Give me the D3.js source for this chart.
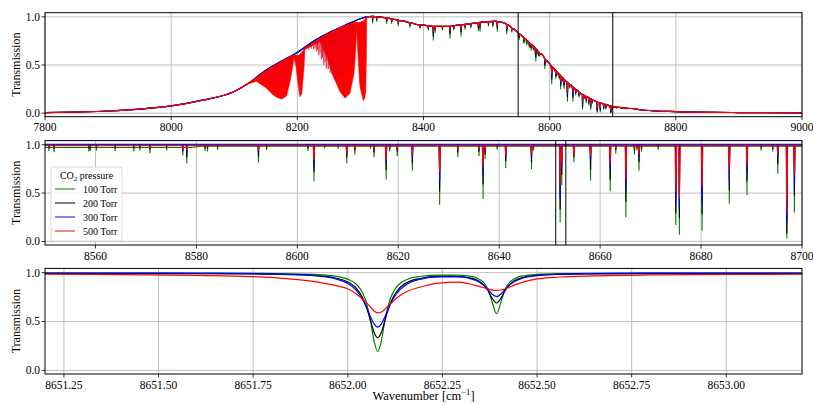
<!DOCTYPE html>
<html><head><meta charset="utf-8">
<script src="https://cdn.jsdelivr.net/npm/d3@7"></script>
<style>
body{margin:0;background:#fff}
svg{display:block}
text{font-family:"Liberation Serif","Times New Roman",serif;fill:#000}
</style>
</head><body>
<svg id="c" width="813" height="405"></svg>
<script>
// ================= DATA =================
const seriesNames = ["100 Torr", "200 Torr", "300 Torr", "500 Torr"];

// --- Panel 1: filter envelope (wavenumber, transmission)
const envNu = [7800, 7850, 7900, 7950, 8000, 8050, 8100, 8125, 8150, 8175, 8200, 8225, 8250, 8275, 8300, 8310, 8320, 8340, 8360, 8390, 8415, 8440, 8470, 8495, 8515, 8530, 8550, 8575, 8600, 8625, 8650, 8675, 8700, 8750, 8800, 8900, 9000];
const envT = [0.006, 0.012, 0.022, 0.042, 0.075, 0.135, 0.225, 0.32, 0.445, 0.54, 0.63, 0.745, 0.835, 0.91, 0.98, 1.0, 1.005, 0.99, 0.965, 0.92, 0.90, 0.90, 0.925, 0.948, 0.955, 0.93, 0.835, 0.69, 0.51, 0.335, 0.20, 0.115, 0.068, 0.03, 0.016, 0.006, 0.003];

// --- Panel 1: strong CO2 bands (lower boundary, and top of the 500 Torr trace)
const bandNu = [8120, 8135, 8151, 8160, 8167, 8175, 8183, 8189, 8193.6, 8195, 8198, 8200.6, 8204, 8207, 8210.6, 8212, 8220, 8228, 8236, 8246.5, 8257, 8267.6, 8275.6, 8283.5, 8289.8, 8292, 8294, 8296.6, 8299.3, 8304.6, 8307, 8308.4, 8309.5, 8310];
const bandLow = [0.30, 0.33, 0.26, 0.20, 0.166, 0.145, 0.18, 0.345, 0.52, 0.586, 0.48, 0.33, 0.17, 0.20, 0.48, 0.66, 0.69, 0.72, 0.74, 0.586, 0.38, 0.224, 0.155, 0.207, 0.414, 0.60, 0.86, 0.55, 0.275, 0.13, 0.16, 0.23, 0.60, 1.0];
const bandRedTop = [0.30, 0.365, 0.44, 0.478, 0.503, 0.533, 0.562, 0.585, 0.595, 0.60, 0.598, 0.595, 0.605, 0.625, 0.655, 0.672, 0.705, 0.74, 0.775, 0.815, 0.85, 0.885, 0.905, 0.925, 0.94, 0.945, 0.94, 0.935, 0.94, 0.955, 0.965, 0.98, 0.99, 1.0];
// individual resolved lines inside the bands (lowest point of each)
const streakNu = [8129, 8133, 8137, 8141, 8145, 8149, 8153, 8157, 8161, 8165, 8169, 8173, 8177, 8181, 8185, 8189, 8214, 8216, 8218, 8220, 8222, 8224, 8226, 8228, 8230, 8232, 8234, 8236, 8238, 8240, 8242, 8244, 8246, 8249, 8252, 8255, 8258, 8261, 8264, 8267, 8270, 8273, 8276, 8279, 8282, 8285, 8288];
const streakLow = [0.34, 0.34, 0.33, 0.33, 0.32, 0.32, 0.31, 0.30, 0.30, 0.30, 0.30, 0.31, 0.32, 0.35, 0.40, 0.50, 0.67, 0.68, 0.66, 0.69, 0.67, 0.70, 0.66, 0.68, 0.64, 0.66, 0.60, 0.63, 0.56, 0.58, 0.50, 0.53, 0.46, 0.46, 0.42, 0.40, 0.38, 0.38, 0.38, 0.38, 0.40, 0.42, 0.45, 0.48, 0.52, 0.58, 0.65];

// --- Panel 1: weaker lines outside the 8550-8700 window (normalised line-centre transmission)
const weakNu = [8319.4, 8325.8, 8341.6, 8349.6, 8360.0, 8378.6, 8394.5, 8407.6, 8415.6, 8418.5, 8430.0, 8442.0, 8448.0, 8459.5, 8466.0, 8475.0, 8487.0, 8489.6, 8503.0, 8510.0, 8517.0, 8532.0, 8540.0, 8706.0, 8713.0, 8722.0];
const weakGreen = [0.93, 0.95, 0.94, 0.95, 0.94, 0.95, 0.96, 0.95, 0.84, 0.93, 0.96, 0.86, 0.95, 0.87, 0.94, 0.95, 0.91, 0.90, 0.95, 0.94, 0.89, 0.89, 0.95, 0.80, 0.85, 0.85];
const weakBlack = [0.96, 0.97, 0.965, 0.97, 0.965, 0.97, 0.975, 0.97, 0.89, 0.96, 0.975, 0.91, 0.97, 0.92, 0.965, 0.97, 0.94, 0.94, 0.97, 0.96, 0.93, 0.93, 0.97, 0.87, 0.90, 0.90];
const weakBlue = [0.98, 0.985, 0.985, 0.985, 0.985, 0.985, 0.99, 0.985, 0.93, 0.98, 0.99, 0.94, 0.985, 0.95, 0.985, 0.985, 0.965, 0.965, 0.985, 0.98, 0.96, 0.96, 0.985, 0.92, 0.94, 0.94];
const weakRed = [0.975, 0.98, 0.98, 0.98, 0.98, 0.98, 0.985, 0.98, 0.94, 0.975, 0.985, 0.95, 0.98, 0.95, 0.98, 0.98, 0.96, 0.96, 0.98, 0.975, 0.96, 0.96, 0.98, 0.93, 0.95, 0.95];

// --- Panel 2: line list 8550-8700 (line-centre transmission per pressure)
const lineNu = [8550.8, 8551.8, 8558.7, 8559.0, 8560.2, 8563.9, 8567.6, 8568.8, 8570.8, 8574.1, 8577.3, 8578.1, 8581.7, 8582.2, 8584.2, 8592.3, 8593.9, 8602.1, 8603.3, 8605.4, 8608.1, 8609.8, 8611.4, 8614.5, 8615.2, 8617.6, 8618.3, 8619.8, 8622.8, 8628.2, 8631.8, 8636.0, 8636.8, 8637.2, 8639.6, 8641.3, 8646.4, 8646.8, 8652.08, 8652.39, 8654.8, 8658.1, 8662.0, 8663.1, 8665.1, 8666.8, 8667.3, 8667.7, 8668.2, 8671.5, 8675.0, 8675.7, 8680.2, 8685.6, 8689.1, 8691.9, 8694.2, 8695.2, 8697.0, 8698.5];
const lineGreen = [0.935, 0.925, 0.93, 0.935, 0.94, 0.935, 0.93, 0.94, 0.91, 0.94, 0.89, 0.805, 0.935, 0.93, 0.945, 0.815, 0.945, 0.935, 0.62, 0.965, 0.96, 0.81, 0.90, 0.96, 0.87, 0.64, 0.93, 0.88, 0.73, 0.38, 0.87, 0.88, 0.44, 0.85, 0.95, 0.76, 0.75, 0.94, 0.195, 0.58, 0.82, 0.63, 0.52, 0.91, 0.25, 0.90, 0.94, 0.73, 0.93, 0.95, 0.17, 0.07, 0.11, 0.39, 0.48, 0.94, 0.93, 0.70, 0.03, 0.30];
const lineBlack = [0.965, 0.96, 0.965, 0.97, 0.97, 0.965, 0.965, 0.97, 0.95, 0.97, 0.93, 0.87, 0.965, 0.965, 0.97, 0.875, 0.97, 0.965, 0.72, 0.98, 0.98, 0.87, 0.94, 0.98, 0.92, 0.74, 0.96, 0.93, 0.81, 0.52, 0.92, 0.93, 0.59, 0.90, 0.975, 0.83, 0.82, 0.97, 0.334, 0.69, 0.87, 0.74, 0.64, 0.95, 0.41, 0.94, 0.97, 0.82, 0.96, 0.975, 0.29, 0.24, 0.28, 0.53, 0.62, 0.97, 0.96, 0.80, 0.08, 0.47];
const lineBlue = [0.985, 0.985, 0.99, 0.99, 0.99, 0.99, 0.99, 0.99, 0.975, 0.99, 0.96, 0.91, 0.99, 0.99, 0.99, 0.915, 0.99, 0.99, 0.77, 0.995, 0.995, 0.90, 0.97, 0.995, 0.95, 0.80, 0.985, 0.96, 0.86, 0.62, 0.95, 0.96, 0.69, 0.94, 0.99, 0.88, 0.87, 0.99, 0.442, 0.755, 0.905, 0.83, 0.74, 0.975, 0.52, 0.97, 0.99, 0.87, 0.985, 0.99, 0.41, 0.34, 0.41, 0.62, 0.70, 0.99, 0.985, 0.86, 0.20, 0.57];
const lineRed = [0.975, 0.975, 0.98, 0.98, 0.98, 0.98, 0.98, 0.98, 0.965, 0.98, 0.955, 0.945, 0.98, 0.98, 0.98, 0.95, 0.98, 0.98, 0.84, 0.985, 0.985, 0.91, 0.96, 0.985, 0.95, 0.84, 0.975, 0.96, 0.90, 0.72, 0.95, 0.955, 0.77, 0.95, 0.985, 0.89, 0.90, 0.98, 0.589, 0.818, 0.89, 0.89, 0.80, 0.97, 0.65, 0.965, 0.98, 0.90, 0.975, 0.985, 0.52, 0.45, 0.57, 0.74, 0.78, 0.98, 0.975, 0.90, 0.30, 0.69];
// baseline (continuum) of each trace in panel 2
const midBaseNu = [8550, 8579, 8581, 8700];
const baseGreen = [0.972, 0.972, 0.986, 0.986];
const baseBlack = [0.998, 0.998, 0.998, 0.998];
const baseBlue = [1.005, 1.005, 1.005, 1.005];
const baseRed = [0.99, 0.99, 0.99, 0.99];

// --- Panel 3: zoom on 8651.2-8653.2
const zoomNu = [8651.20, 8651.40, 8651.60, 8651.75, 8651.85, 8651.92, 8651.97, 8652.00, 8652.02, 8652.04, 8652.05, 8652.06, 8652.07, 8652.079, 8652.088, 8652.098, 8652.108, 8652.118, 8652.138, 8652.158, 8652.19, 8652.24, 8652.29, 8652.32, 8652.345, 8652.36, 8652.37, 8652.38, 8652.393, 8652.405, 8652.415, 8652.425, 8652.44, 8652.465, 8652.50, 8652.56, 8652.65, 8652.80, 8653.00, 8653.20];
const zoomGreen = [0.995, 0.995, 0.994, 0.992, 0.988, 0.979, 0.962, 0.933, 0.889, 0.787, 0.681, 0.507, 0.289, 0.195, 0.289, 0.507, 0.681, 0.787, 0.889, 0.932, 0.960, 0.974, 0.974, 0.965, 0.938, 0.895, 0.832, 0.717, 0.580, 0.703, 0.824, 0.891, 0.938, 0.968, 0.981, 0.989, 0.9925, 0.994, 0.995, 0.995];
const zoomBlack = [0.991, 0.990, 0.989, 0.986, 0.980, 0.968, 0.942, 0.904, 0.850, 0.736, 0.638, 0.509, 0.383, 0.334, 0.383, 0.509, 0.638, 0.736, 0.848, 0.902, 0.940, 0.961, 0.960, 0.948, 0.916, 0.870, 0.817, 0.747, 0.689, 0.741, 0.812, 0.868, 0.917, 0.953, 0.971, 0.982, 0.987, 0.990, 0.991, 0.991];
const zoomBlue = [0.996, 0.995, 0.993, 0.989, 0.981, 0.965, 0.934, 0.888, 0.829, 0.720, 0.639, 0.548, 0.470, 0.442, 0.470, 0.548, 0.639, 0.720, 0.826, 0.885, 0.931, 0.956, 0.956, 0.942, 0.908, 0.866, 0.827, 0.784, 0.755, 0.781, 0.825, 0.864, 0.909, 0.947, 0.970, 0.984, 0.990, 0.994, 0.995, 0.996];
const zoomRed = [0.983, 0.980, 0.972, 0.959, 0.934, 0.903, 0.866, 0.835, 0.790, 0.726, 0.688, 0.648, 0.604, 0.589, 0.595, 0.625, 0.665, 0.700, 0.765, 0.810, 0.850, 0.892, 0.903, 0.886, 0.862, 0.845, 0.833, 0.824, 0.818, 0.822, 0.832, 0.848, 0.872, 0.905, 0.935, 0.955, 0.967, 0.976, 0.981, 0.983];

// --- Axes
const xTicks1 = [7800, 8000, 8200, 8400, 8600, 8800, 9000];
const xTicks2 = [8560, 8580, 8600, 8620, 8640, 8660, 8680, 8700];
const xTicks3 = [8651.25, 8651.50, 8651.75, 8652.00, 8652.25, 8652.50, 8652.75, 8653.00];
const yTicks = [0.0, 0.5, 1.0];
const window1 = [8550, 8700];
const window2 = [8651.2, 8653.2];

// ================= STYLE / LAYOUT =================
const colors = ["#008000", "#000000", "#0000ff", "#ff0000"];
const X0 = 45, X1 = 802;
const yDom = [-0.037, 1.043];
const panels = [
  {top: 12.7, bottom: 116.7, dom: [7800, 9000], ticks: xTicks1, fmt: d3.format("d")},
  {top: 140.6, bottom: 245.0, dom: [8550, 8700], ticks: xTicks2, fmt: d3.format("d")},
  {top: 268.4, bottom: 374.0, dom: [8651.2, 8653.2], ticks: xTicks3, fmt: d3.format(".2f")}
];

const svg = d3.select("#c");
svg.append("rect").attr("width", 813).attr("height", 405).attr("fill", "#fff");

panels.forEach((p, i) => {
  p.x = d3.scaleLinear().domain(p.dom).range([X0, X1]);
  p.y = d3.scaleLinear().domain(yDom).range([p.bottom, p.top]);
  p.g = svg.append("g");
  const clipId = "clip" + i;
  svg.append("clipPath").attr("id", clipId).append("rect")
    .attr("x", X0).attr("y", p.top).attr("width", X1 - X0).attr("height", p.bottom - p.top);
  const grid = p.g.append("g");
  p.ticks.forEach(t => grid.append("line").attr("x1", p.x(t)).attr("x2", p.x(t))
    .attr("y1", p.top).attr("y2", p.bottom).attr("stroke", "#b0b0b0").attr("stroke-width", 0.8));
  yTicks.forEach(t => grid.append("line").attr("x1", X0).attr("x2", X1)
    .attr("y1", p.y(t)).attr("y2", p.y(t)).attr("stroke", "#b0b0b0").attr("stroke-width", 0.8));
  p.data = p.g.append("g").attr("clip-path", `url(#${clipId})`);
});

// ---------- Panel 1 ----------
{
  const p = panels[0];
  const env = d3.scaleLinear().domain(envNu).range(envT).clamp(true);
  const topNu = weakNu.concat(lineNu);
  const topMins = [weakGreen.concat(lineGreen), weakBlack.concat(lineBlack), weakBlue.concat(lineBlue), weakRed.concat(lineRed)];
  const w = 0.45;
  const bStart = bandNu[0], bEnd = bandNu[bandNu.length - 1];
  const line = d3.line().x(d => p.x(d[0])).y(d => p.y(d[1])).curve(d3.curveMonotoneX);
  const area = d3.area().x(d => p.x(d[0])).y0(d => p.y(d[1])).y1(d => p.y(d[2]));

  function seriesPts(k) {
    const pts = [];
    envNu.forEach((n, i) => { if (k !== 3 || n <= bStart || n >= bEnd) pts.push([n, envT[i]]); });
    if (k === 3) bandNu.forEach((n, i) => { if (n > bStart && n < bEnd) pts.push([n, bandRedTop[i]]); });
    topNu.forEach((n, j) => {
      pts.push([n - w, env(n - w)], [n, env(n) * topMins[k][j]], [n + w, env(n + w)]);
    });
    pts.sort((a, b) => a[0] - b[0]);
    return pts;
  }
  for (let k = 0; k < 3; k++) {
    p.data.append("path").attr("d", line(seriesPts(k))).attr("fill", "none")
      .attr("stroke", colors[k]).attr("stroke-width", 1.2);
  }
  // 500 Torr: band absorption fill, resolved lines, then its trace
  const bandPts = bandNu.map((n, i) => [n, bandLow[i], bandRedTop[i]]);
  p.data.append("path").attr("d", area(bandPts)).attr("fill", colors[3]).attr("stroke", colors[3]).attr("stroke-width", 0.6);
  streakNu.forEach((n, i) => {
    p.data.append("line").attr("x1", p.x(n)).attr("x2", p.x(n))
      .attr("y1", p.y(env(n) - 0.01)).attr("y2", p.y(streakLow[i]))
      .attr("stroke", colors[3]).attr("stroke-width", 0.9);
    p.data.append("line").attr("x1", p.x(n)).attr("x2", p.x(n))
      .attr("y1", p.y(env(n) - 0.01)).attr("y2", p.y(streakLow[i]))
      .attr("stroke", colors[2]).attr("stroke-opacity", 0.15).attr("stroke-width", 0.7);
  });
  p.data.append("path").attr("d", line(seriesPts(3))).attr("fill", "none")
    .attr("stroke", colors[3]).attr("stroke-width", 1.2);
  p.data.append("rect").attr("x", p.x(window1[0])).attr("width", p.x(window1[1]) - p.x(window1[0]))
    .attr("y", p.top - 2).attr("height", p.bottom - p.top + 4)
    .attr("fill", "none").attr("stroke", "#000").attr("stroke-width", 1);
}

// ---------- Panel 2 ----------
{
  const p = panels[1];
  const bases = [baseGreen, baseBlack, baseBlue, baseRed];
  const mins = [lineGreen, lineBlack, lineBlue, lineRed];
  const halfW = [0.05, 0.06, 0.08, 0.16];
  const line = d3.line().x(d => p.x(d[0])).y(d => p.y(d[1]));
  for (let k = 0; k < 4; k++) {
    const base = d3.scaleLinear().domain(midBaseNu).range(bases[k]);
    const pts = midBaseNu.map((n, i) => [n, bases[k][i]]);
    lineNu.forEach((n, j) => {
      pts.push([n - halfW[k], base(n - halfW[k])], [n, mins[k][j]], [n + halfW[k], base(n + halfW[k])]);
    });
    pts.sort((a, b) => a[0] - b[0]);
    p.data.append("path").attr("d", line(pts)).attr("fill", "none")
      .attr("stroke", colors[k]).attr("stroke-width", 1.1);
  }
  p.data.append("rect").attr("x", p.x(window2[0])).attr("width", p.x(window2[1]) - p.x(window2[0]))
    .attr("y", p.top - 2).attr("height", p.bottom - p.top + 4)
    .attr("fill", "none").attr("stroke", "#000").attr("stroke-width", 1);

  const lg = p.g.append("g");
  lg.append("rect").attr("x", 51).attr("y", 167).attr("width", 71).attr("height", 74).attr("rx", 2)
    .attr("fill", "#fff").attr("fill-opacity", 0.85).attr("stroke", "#d0d0d0").attr("stroke-width", 0.8);
  const tt = lg.append("text").attr("x", 86.5).attr("y", 179).attr("text-anchor", "middle").attr("font-size", 10);
  tt.append("tspan").text("CO");
  tt.append("tspan").attr("font-size", 7).attr("dy", 2).text("2");
  tt.append("tspan").attr("dy", -2).text(" pressure");
  seriesNames.forEach((s, k) => {
    const yy = 189 + k * 14;
    lg.append("line").attr("x1", 55).attr("x2", 75).attr("y1", yy).attr("y2", yy)
      .attr("stroke", colors[k]).attr("stroke-opacity", 0.7).attr("stroke-width", 1.4);
    lg.append("text").attr("x", 83).attr("y", yy + 3.5).attr("font-size", 10).text(s);
  });
}

// ---------- Panel 3 ----------
{
  const p = panels[2];
  const ser = [zoomGreen, zoomBlack, zoomBlue, zoomRed];
  const line = d3.line().x((d, i) => p.x(zoomNu[i])).y(d => p.y(d)).curve(d3.curveMonotoneX);
  ser.forEach((s, k) => p.data.append("path").attr("d", line(s)).attr("fill", "none")
    .attr("stroke", colors[k]).attr("stroke-width", 1.2));
}

// ---------- frames, ticks, labels ----------
panels.forEach(p => {
  const g = svg.append("g");
  g.append("rect").attr("x", X0).attr("y", p.top).attr("width", X1 - X0).attr("height", p.bottom - p.top)
    .attr("fill", "none").attr("stroke", "#000").attr("stroke-width", 1);
  p.ticks.forEach(t => {
    g.append("line").attr("x1", p.x(t)).attr("x2", p.x(t)).attr("y1", p.bottom).attr("y2", p.bottom + 3.5)
      .attr("stroke", "#000").attr("stroke-width", 0.8);
    g.append("text").attr("x", p.x(t)).attr("y", p.bottom + 14.5).attr("text-anchor", "middle")
      .attr("font-size", 11.5).text(p.fmt(t));
  });
  yTicks.forEach(t => {
    g.append("line").attr("x1", X0 - 3.5).attr("x2", X0).attr("y1", p.y(t)).attr("y2", p.y(t))
      .attr("stroke", "#000").attr("stroke-width", 0.8);
    g.append("text").attr("x", X0 - 5).attr("y", p.y(t) + 4).attr("text-anchor", "end")
      .attr("font-size", 11.5).text(d3.format(".1f")(t));
  });
  const cy = (p.top + p.bottom) / 2;
  g.append("text").attr("transform", `translate(20,${cy}) rotate(-90)`).attr("text-anchor", "middle")
    .attr("font-size", 12).text("Transmission");
});
{
  const t = svg.append("text").attr("x", (X0 + X1) / 2).attr("y", 400).attr("text-anchor", "middle").attr("font-size", 12.5);
  t.append("tspan").text("Wavenumber [cm");
  t.append("tspan").attr("font-size", 8.5).attr("dy", -5).text("\u22121");
  t.append("tspan").attr("dy", 5).text("]");
}
</script>
</body></html>
